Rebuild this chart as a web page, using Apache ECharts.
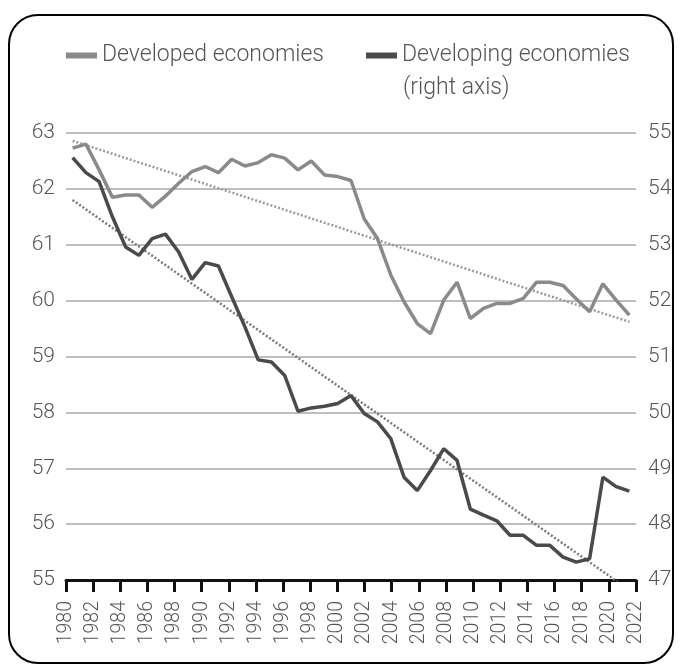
<!DOCTYPE html>
<html>
<head>
<meta charset="utf-8">
<script src="https://cdn.jsdelivr.net/npm/echarts@6/dist/echarts.min.js"></script>
<style>
  html, body { margin: 0; padding: 0; background: #fff; }
  #frame {
    position: absolute; left: 8px; top: 14px; width: 662px; height: 646px;
    border: 2px solid #000; border-radius: 30px; pointer-events: none;
  }
  #chart { position: absolute; left: 0; top: 0; width: 681px; height: 664px; }
</style>
</head>
<body>
<div id="chart"></div>
<div id="frame"></div>
<script>
// years on the data axis
const years = ['1980','1981','1982','1983','1984','1985','1986','1987','1988','1989',
  '1990','1991','1992','1993','1994','1995','1996','1997','1998','1999',
  '2000','2001','2002','2003','2004','2005','2006','2007','2008','2009',
  '2010','2011','2012','2013','2014','2015','2016','2017','2018','2019',
  '2020','2021','2022'];

// tick labels shown under the axis
const tickLabels = ['1980','1982','1984','1986','1988','1990','1992','1994','1996','1998',
  '2000','2002','2004','2006','2008','2010','2012','2014','2016','2018','2020','2022'];

// left axis
const developed = [62.73, 62.80, 62.34, 61.85, 61.89, 61.89, 61.67, 61.87, 62.10, 62.31,
  62.40, 62.29, 62.53, 62.41, 62.47, 62.61, 62.55, 62.34, 62.50, 62.25,
  62.22, 62.15, 61.46, 61.11, 60.46, 59.98, 59.59, 59.41, 60.01, 60.33,
  59.68, 59.86, 59.95, 59.95, 60.04, 60.33, 60.33, 60.27, 60.03, 59.80,
  60.30, 60.01, 59.74];

// right axis
const developing = [54.56, 54.29, 54.13, 53.50, 52.96, 52.81, 53.11, 53.19, 52.87, 52.38,
  52.68, 52.62, 52.07, 51.53, 50.94, 50.90, 50.66, 50.02, 50.08, 50.11,
  50.16, 50.30, 49.98, 49.83, 49.53, 48.84, 48.60, 48.96, 49.35, 49.14,
  48.27, 48.16, 48.06, 47.80, 47.80, 47.62, 47.62, 47.41, 47.32, 47.38,
  48.84, 48.67, 48.59];

// linear trend endpoints (first year, last year)
const developedTrend = [62.86, 59.62];
const developingTrend = [53.80, 46.82];

const font = 'Roboto, "Noto Sans", sans-serif';
const labelColor = '#555';

const chart = echarts.init(document.getElementById('chart'));
chart.setOption({
  animation: false,
  grid: {
    left: 66, right: 45, top: 133, height: 447,
    containLabel: false, outerBoundsMode: 'none'
  },
  legend: [
    {
      data: ['Developed economies'],
      left: 66, top: 44, padding: 0,
      itemWidth: 31, itemHeight: 6, icon: 'rect',
      textStyle: {fontFamily: font, fontSize: 23, fontWeight: 300, color: labelColor}
    },
    {
      data: ['Developing economies'],
      left: 366, top: 44, padding: 0,
      itemWidth: 31, itemHeight: 6, icon: 'rect',
      textStyle: {fontFamily: font, fontSize: 23, fontWeight: 300, color: labelColor}
    }
  ],
  graphic: [{
    type: 'text', left: 403, top: 77,
    style: {text: '(right axis)', font: '300 23px ' + font, fill: labelColor}
  }],
  xAxis: [
    {
      type: 'category', data: tickLabels, boundaryGap: false,
      axisLine: {lineStyle: {color: '#111', width: 3}},
      axisTick: {interval: 0, length: 12, lineStyle: {color: '#111', width: 3}},
      axisLabel: {interval: 0, rotate: 90, margin: 21, color: labelColor,
        fontFamily: font, fontSize: 19.5, fontWeight: 300},
      splitLine: {show: false}
    },
    {
      type: 'category', data: years, boundaryGap: true, show: false
    }
  ],
  yAxis: [
    {
      type: 'value', min: 55, max: 63, interval: 1,
      axisLine: {show: false}, axisTick: {show: false},
      axisLabel: {margin: 11, color: labelColor, fontFamily: font, fontSize: 21, fontWeight: 300},
      splitLine: {lineStyle: {color: '#a8a8a8', width: 1.5}}
    },
    {
      type: 'value', min: 47, max: 55, interval: 1, position: 'right',
      axisLine: {show: false}, axisTick: {show: false},
      axisLabel: {margin: 12, color: labelColor, fontFamily: font, fontSize: 21, fontWeight: 300},
      splitLine: {show: false}
    }
  ],
  series: [
    {
      name: 'Developed economies', type: 'line', xAxisIndex: 1, yAxisIndex: 0,
      data: developed, symbol: 'none', silent: true, color: '#8a8a8a',
      lineStyle: {width: 3.5, color: '#8a8a8a'}, z: 3
    },
    {
      name: 'Developing economies', type: 'line', xAxisIndex: 1, yAxisIndex: 1,
      data: developing, symbol: 'none', silent: true, color: '#4a4a4a',
      lineStyle: {width: 3.5, color: '#4a4a4a'}, z: 3
    },
    {
      name: 'developed trend', type: 'line', xAxisIndex: 1, yAxisIndex: 0,
      data: [[years[0], developedTrend[0]], [years[years.length - 1], developedTrend[1]]],
      symbol: 'none', silent: true,
      lineStyle: {width: 2.5, color: '#9a9a9a', type: [2, 2]}, z: 2
    },
    {
      name: 'developing trend', type: 'line', xAxisIndex: 1, yAxisIndex: 1,
      data: [[years[0], developingTrend[0]], [years[years.length - 1], developingTrend[1]]],
      symbol: 'none', silent: true, clip: true,
      lineStyle: {width: 2.5, color: '#7a7a7a', type: [2, 2]}, z: 2
    }
  ]
});
</script>
</body>
</html>
